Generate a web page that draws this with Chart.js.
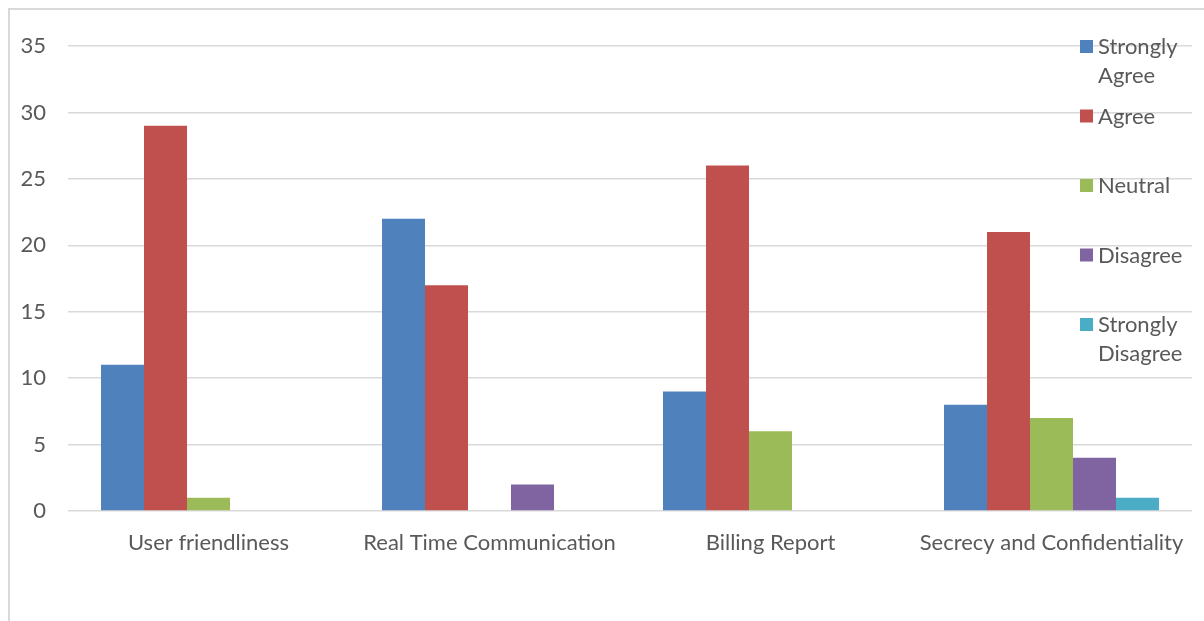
<!DOCTYPE html>
<html>
<head>
<meta charset="utf-8">
<script src="https://cdn.jsdelivr.net/npm/chart.js@4"></script>
<style>
  html, body { margin: 0; padding: 0; background: #fff; }
  #wrap { position: relative; width: 1204px; height: 621px; }
  #frame { position: absolute; left: 8px; top: 8px; width: 1200px; height: 620px;
           border-left: 2px solid #d9d9d9; border-top: 2px solid #d9d9d9; }
  canvas { position: absolute; left: 0; top: 0; }
</style>
</head>
<body>
<div id="wrap">
  <div id="frame"></div>
  <canvas id="chart" width="1204" height="621"></canvas>
</div>
<script>
// categories and series
var categories = ["User friendliness", "Real Time Communication", "Billing Report", "Secrecy and Confidentiality"];
var seriesNames = ["Strongly Agree", "Agree", "Neutral", "Disagree", "Strongly Disagree"];
var stronglyAgree = [11, 22, 9, 8];
var agree = [29, 17, 26, 21];
var neutral = [1, 0, 6, 7];
var disagree = [0, 2, 0, 4];
var stronglyDisagree = [0, 0, 0, 1];
var yTicks = [0, 5, 10, 15, 20, 25, 30, 35];

var colors = ['#4F81BD', '#C0504D', '#9BBB59', '#8064A2', '#4BACC6'];
var allSeries = [stronglyAgree, agree, neutral, disagree, stronglyDisagree];

var textColor = '#595959';
var font = "Lato, 'Open Sans', sans-serif";

// legend sits on top of the plot, right side, like the original
var sideLegend = {
    id: 'sideLegend',
    afterDraw: function(chart) {
        var ctx = chart.ctx;
        ctx.save();
        ctx.font = '22px ' + font;
        ctx.textBaseline = 'middle';
        ctx.textAlign = 'left';
        chart.data.datasets.forEach(function(ds, i) {
            var y = 47 + i * 69.5;
            ctx.fillStyle = ds.backgroundColor;
            ctx.fillRect(1080, y - 7, 13, 13);
            ctx.fillStyle = textColor;
            var words = ds.label.split(' ');
            var lines = [];
            var line = '';
            words.forEach(function(w) {
                var test = line ? line + ' ' + w : w;
                if (line && ctx.measureText(test).width > 100) {
                    lines.push(line);
                    line = w;
                } else {
                    line = test;
                }
            });
            lines.push(line);
            lines.forEach(function(l, j) {
                ctx.fillText(l, 1098, y + j * 29);
            });
        });
        ctx.restore();
    }
};

var datasets = [];
for (var i = 0; i < seriesNames.length; i++) {
    datasets.push({
        label: seriesNames[i],
        data: allSeries[i],
        backgroundColor: colors[i],
        borderWidth: 0,
        categoryPercentage: 0.765,
        barPercentage: 1.0
    });
}

var chart = new Chart(document.getElementById('chart').getContext('2d'), {
    type: 'bar',
    data: { labels: categories, datasets: datasets },
    plugins: [sideLegend],
    options: {
        responsive: false,
        animation: false,
        layout: { padding: { left: 0, right: 12, top: 46, bottom: 0 } },
        plugins: {
            legend: { display: false },
            tooltip: { enabled: false }
        },
        scales: {
            x: {
                grid: { display: false, drawTicks: false },
                border: { display: false },
                ticks: { color: textColor, font: { family: font, size: 22 }, padding: 19, maxRotation: 0 },
                afterFit: function(s) { s.height = 110; }
            },
            y: {
                min: 0,
                max: 35,
                afterBuildTicks: function(s) { s.ticks = yTicks.map(function(v) { return { value: v }; }); },
                grid: { color: '#d9d9d9', lineWidth: 1.5, drawTicks: false },
                border: { display: false },
                ticks: { color: textColor, font: { family: font, size: 22 }, padding: 22 },
                afterFit: function(s) { s.width = 68; }
            }
        }
    }
});
</script>
</body>
</html>
